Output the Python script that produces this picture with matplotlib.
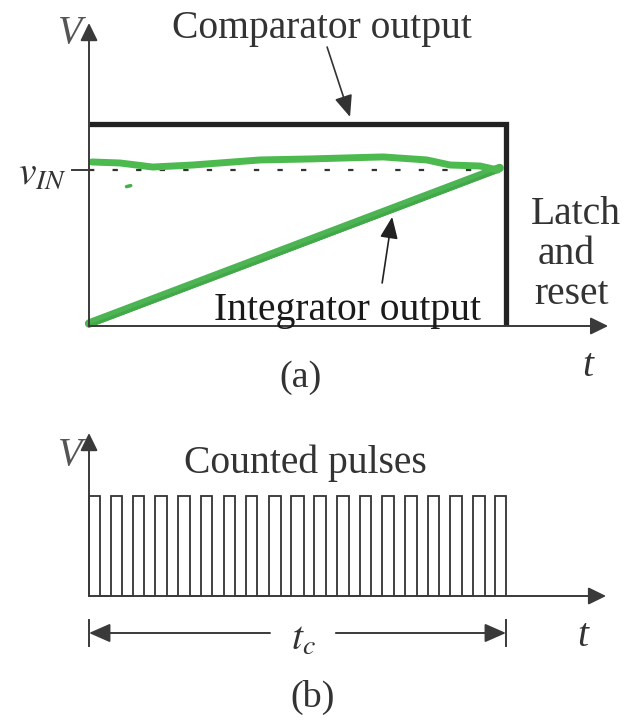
import numpy as np
import matplotlib
matplotlib.use("Agg")
import matplotlib.pyplot as plt
import matplotlib.transforms as mtransforms

plt.rcParams["font.family"] = ["Liberation Serif", "DejaVu Serif"]
plt.rcParams["mathtext.fontset"] = "stix"

# ---- data (time in units of t_c, voltage normalised) ----
t_conv = 1.0                 # end of conversion (t_c)
v_in = 0.77                  # input level
v_comp = 1.0                 # comparator output high level
ramp_t = [0.0, 0.985]
ramp_v = [0.0, 0.77]
# hand drawn green trace of v_IN
wobble_t = [0.007, 0.074, 0.153, 0.249, 0.41, 0.53, 0.705, 0.81, 0.866, 0.938, 0.98]
wobble_v = [0.812, 0.807, 0.787, 0.797, 0.822, 0.827, 0.837, 0.822, 0.797, 0.792, 0.772]
# counted pulses: rising / falling edges
pulse_start = [0.0, 0.053, 0.106, 0.158, 0.213, 0.269, 0.324, 0.376, 0.432, 0.484,
               0.540, 0.595, 0.650, 0.703, 0.758, 0.813, 0.866, 0.921, 0.974]
pulse_end = [0.026, 0.079, 0.132, 0.187, 0.242, 0.295, 0.350, 0.403, 0.460, 0.516,
             0.568, 0.624, 0.676, 0.731, 0.787, 0.839, 0.894, 0.950, 1.0]
pulse_high = 1.0

TXT = "#333333"
AX = "#3a3a3a"
GREEN = "#43b04a"
FS = 28.5

fig = plt.figure(figsize=(6.26, 7.21), dpi=100)
fig.patch.set_facecolor("white")

# both panels share the full figure, each with its own data scale
W, H = 626, 721
x0, sx = 89, 417          # pixel of t=0, pixels per t_c


def make_ax(y0, sy):
    ax = fig.add_axes([0, 0, 1, 1])
    ax.set_xlim(-x0 / sx, (W - x0) / sx)
    ax.set_ylim(-(H - y0) / sy, y0 / sy)
    ax.axis("off")
    ax.patch.set_alpha(0)
    return ax


def axis_arrow(ax, start, end, ms=24):
    ax.annotate("", xy=end, xytext=start,
                arrowprops=dict(arrowstyle="-|>,head_length=0.45,head_width=0.22",
                                color=AX, lw=1.4, mutation_scale=ms,
                                shrinkA=0, shrinkB=0))


# ================= (a) =================
ax = make_ax(326, 202)

axis_arrow(ax, (0, 0), (0, 1.5))
axis_arrow(ax, (0, 0), (1.245, 0))

# comparator output
ax.plot([0.0, t_conv, t_conv], [v_comp, v_comp, 0], color="#222222", lw=3.8,
        solid_joinstyle="miter", solid_capstyle="butt")

# v_IN reference
ax.plot([-0.041, 0], [v_in, v_in], color=AX, lw=1.4)
ax.plot([0, 0.985], [v_in, v_in], color="#333333", lw=1.6,
        linestyle=(0, (2.4, 8.2)))

# integrator ramp: dark line with green stroke on top
ax.plot(ramp_t, ramp_v, color="#1f3a1f", lw=2.2, solid_capstyle="round")
up = mtransforms.offset_copy(ax.transData, fig=fig, x=0, y=2.5, units="dots")
ax.plot(ramp_t, ramp_v, color=GREEN, lw=6, alpha=0.95,
        solid_capstyle="round", transform=up)

# hand drawn v_IN trace
ax.plot(wobble_t, wobble_v, color="#4cba4f", lw=5, solid_capstyle="round",
        solid_joinstyle="round")
ax.plot([0.09, 0.1], [0.69, 0.695], color=GREEN, lw=2.5, solid_capstyle="round")

ax.text(-0.046, 1.45, "V", fontsize=FS, style="italic", color="#555555",
        ha="center", va="center")
ax.text(-0.052, 0.75, r"$v_{IN}$", fontsize=FS, color=TXT, ha="right", va="center")
ax.text(0.559, 1.426, "Comparator output", fontsize=FS, color=TXT,
        ha="center", va="baseline")
ax.annotate("", xy=(0.626, 1.035), xytext=(0.571, 1.381),
            arrowprops=dict(arrowstyle="-|>,head_length=0.6,head_width=0.25",
                            color="#333333", lw=1.2, mutation_scale=22,
                            shrinkA=0, shrinkB=0))
ax.text(0.619, 0.03, "Integrator output", fontsize=FS, color="#1a1a1a",
        ha="center", va="baseline")
ax.annotate("", xy=(0.727, 0.54), xytext=(0.703, 0.213),
            arrowprops=dict(arrowstyle="-|>,head_length=0.6,head_width=0.25",
                            color="#222222", lw=1.2, mutation_scale=22,
                            shrinkA=0, shrinkB=0))
for txt, tx, vy in [("Latch", 1.168, 0.55), ("and", 1.144, 0.352), ("reset", 1.158, 0.154)]:
    ax.text(tx, vy, txt, fontsize=FS, color=TXT, ha="center", va="center")
ax.text(1.197, -0.2, "t", fontsize=FS, style="italic", color=TXT,
        ha="center", va="center")
ax.text(0.506, -0.257, "(a)", fontsize=FS - 1, color=TXT, ha="center", va="center")

# ================= (b) =================
bx = make_ax(596, 100)

axis_arrow(bx, (0, 0), (0, 1.63))
axis_arrow(bx, (0, 0), (1.24, 0))

# square wave from the edge lists
wave_t, wave_v = [], []
for s, e in zip(pulse_start, pulse_end):
    wave_t += [s, s, e, e]
    wave_v += [0, pulse_high, pulse_high, 0]
bx.plot(wave_t, wave_v, color="#333333", lw=1.3, solid_joinstyle="miter")

bx.text(-0.046, 1.41, "V", fontsize=FS, style="italic", color="#555555",
        ha="center", va="center")
bx.text(0.518, 1.33, "Counted pulses", fontsize=FS, color=TXT,
        ha="center", va="center")

# t_c span
yc = -0.37
for tt in (0, t_conv):
    bx.plot([tt, tt], [-0.24, -0.5], color=AX, lw=1.4)
for a, b in [(0.434, 0.0), (0.592, t_conv)]:
    bx.annotate("", xy=(b, yc), xytext=(a, yc),
                arrowprops=dict(arrowstyle="-|>,head_length=0.5,head_width=0.22",
                                color=AX, lw=1.4, mutation_scale=26,
                                shrinkA=0, shrinkB=0))
bx.text(0.513, -0.44, r"$t_c$", fontsize=FS, color=TXT, ha="center", va="center")
bx.text(1.185, -0.41, "t", fontsize=FS, style="italic", color=TXT,
        ha="center", va="center")
bx.text(0.537, -1.01, "(b)", fontsize=FS - 1, color=TXT, ha="center", va="center")

fig.savefig("out.png", dpi=100, facecolor="white")
